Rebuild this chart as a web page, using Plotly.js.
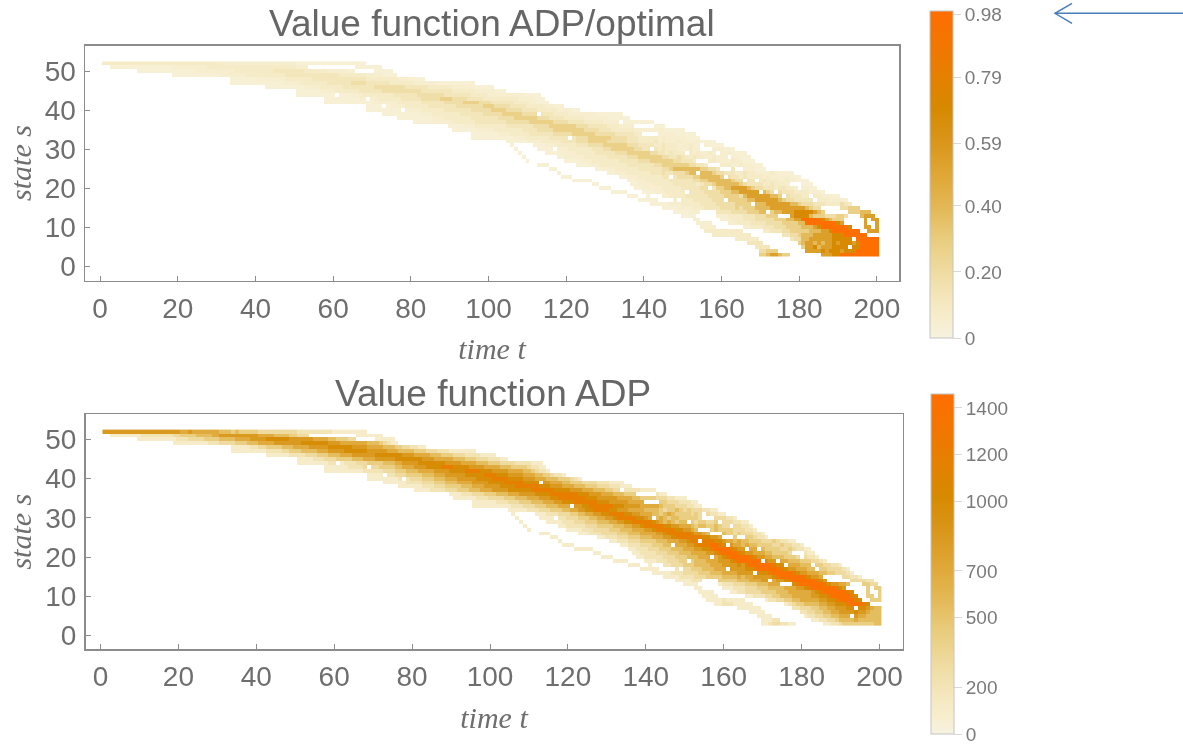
<!DOCTYPE html>
<html><head><meta charset="utf-8">
<script src="https://cdn.plot.ly/plotly-3.0.1.min.js"></script>
<style>html,body{margin:0;padding:0;background:#fff;overflow:hidden}#chart{width:1183px;height:744px;filter:blur(.45px)}</style>
</head><body><div id="chart"></div>
<script>
const states = [52,51,50,49,48,47,46,45,44,43,42,41,40,39,38,37,36,35,34,33,32,31,30,29,28,27,26,25,24,23,22,21,20,19,18,17,16,15,14,13,12,11,10,9,8,7,6,5,4,3];
const firstTime = [1,1,1,11,31,31,41,51,51,51,51,61,61,71,71,81,81,91,91,91,101,101,101,101,101,101,111,111,111,111,121,121,121,131,131,131,141,141,141,141,151,151,151,151,151,161,161,161,161,161];
// Cell readings by state row, one character per time step; '.' means no value. Digits index the level lists.
const ratioLevelValues = [0.03,0.05,0.08,0.12,0.18,0.27,0.38,0.54,0.70,0.98];
const adpLevelValues = [100,200,300,420,550,700,850,1000,1200,1420];
// Individual empty cells seen inside the band, as [time, state].
const emptyCells = [[61,44],[69,43],[73,41],[78,40],[113,39],[117,30],[121,33],[130,24],[134,37],[138,36],[139,36],[140,36],[141,36],[142,36],[140,34],[141,34],[142,34],[143,34],[142,30],[151,29],[155,31],[155,30],[156,30],[157,30],[159,29],[162,28],[154,27],[155,27],[156,27],[157,26],[158,26],[159,26],[160,25],[161,25],[162,25],[164,25],[165,25],[147,23],[154,24],[161,23],[157,20],[144,17],[145,17],[146,17],[147,17],[149,17],[142,18],[143,18],[144,18],[151,19],[161,17],[155,14],[156,14],[157,14],[158,14],[166,22],[169,22],[170,19],[168,16],[172,14],[175,13],[176,13],[177,13],[174,19],[176,18],[178,21],[179,21],[180,21],[180,20],[183,18],[184,17],[186,15],[194,7],[193,5]];
const ratioRows = [
"2222222222 2222222222 2222222222 2111111111 1111111111 0000000000 00000000",
"..00000000 0000000011 1111111222 2222222222 2222222222 111....... .....00000 00",
".........0 0000000000 0000111111 1111222222 2222333333 3322222211 11100..... 00000",
"........00 0000000000 1111111222 2222222333 3333333333 3222222211 110000",
"...0000000 1111111222 2222333333 3333333322 2222221110 000",
"...0000000 0000001111 1222222233 3333444433 3333222222 1111110000 000000",
"..00000000 0011112222 2233333333 4444444433 3333222222 1111100000 0",
"0000001111 2222223333 3344444444 4433333333 2222221111 1000",
"0000000000 0000111222 2222233333 3444444433 3333322221 1111111100 000",
".......000 0000001111 1222222333 3344444555 4444333322 2222222111 1000",
".......000 0000000000 1111112222 2233333344 4445555444 3333332222 11000",
"........00 0000111122 2222333333 3444444455 5444433332 222211000",
"........00 0000000011 1122222233 3333344444 5555444433 3322222111 100",
"..00000000 0011122222 2233333344 4445555544 4433332222 1111111000 0000",
"......0000 0000011122 2222233333 3344445555 5544433332 2222111111 000000",
"0000011111 2222223333 3333444444 5555554444 3333222221 1110000000 00",
".........0 0001112222 2222333333 3444455555 5544433333 2221111100 00000",
"0000001111 1222222233 3344445555 5555444433 3222222111 1111100000",
".....00000 0011122222 3333334444 4555555444 4433333222 2211111100 000",
".....00000 0000001112 2222233333 3344455555 5444433322 2221211111 0000",
"....000001 1112222233 3344455555 4444433322 2231211121 11110000",
".....0.... .000111222 2233344445 5555544433 3322322211 1211110000",
"......0... ..00001111 2222223334 4555555443 3332322211 1211211111 000",
".......0.. ....000011 1122222333 3344455555 5443323222 2212112111 110000",
"........0. .......001 1111222222 3333344455 5555443343 2232211211 1211000",
".........0 .........0 0001112222 2223333344 4555555443 3322322211 11211000",
"..000..... ..00011122 2222233333 3344555555 5443323232 2211211000",
".....00... .......001 1122222233 3333445666 6666554433 2232211100 0",
".......0.. .......... 0011122222 2333433444 5666666544 3332232211 11210000",
"........00 0......... ...0011122 2222333344 4455666665 4433232222 1211111000",
".00000.... .....00111 2222223333 3344556666 6654433322 322211211000",
"......00.. ......0011 1122222333 3332344566 6666543333 2232221211000",
"........00 0......001 1111222223 3333444355 6677776544 3332332211 1100",
".0000....0 0011122222 3333344445 5566777777 6544433322 221110",
".....000.. 0001112222 3333334444 5555467777 7766544333 2232211100",
"........00 0000111122 2233333444 4555556677 7777654433 3332222111 10",
".000001112 2222333344 4445555566 6777777665 4443332222 432",
"....000011 1122233334 4445455566 6677777777 76544..... 44555",
".......000 0111222233 3344445556 6656677788 888765.... ..555666..",
".........0 000.....11 1222233344 4555466788 8865554445 54...6777.",
"..11.....1 1122233344 4445556677 9999987655 5.....7.77",
"...1111... .112222333 3444455556 6999999998 7.....7..7",
"....1111.. .....11222 3334445555 6667899999 998...77.7",
".....22222 22222..... 2233344555 5566677899 99999..777",
".......222 2222222... .....33445 6667777788 8999999...",
"...222222. .......344 6677777788 8889999999",
"......3333 .........5 6776767787 8887899999",
"........33 33........ 5778677788 8888899999",
".........4 4555...... .777787888 7888999999",
".........5 5677655... .....77788 9999999999"
];
const adpRows = [
"6666666666 6666666666 5565555555 4443433333 2222222222 1111111110 00000000",
"..00000000 1111111122 3333444455 6666666666 5555444433 222....... .....00000 00",
".........0 0000000001 1122223333 4444555566 6677777766 6666555544 33322..... 00000",
"........00 0000000111 2222333444 5555666666 6777777766 6555555544 432100",
"...0000011 2233334445 5556666677 7777666655 5544433221 100",
"...0000000 0011112233 3444455566 6677777766 6665554444 3332221110 000000",
"..00000011 1122233344 4555666666 7777777666 5555444333 2221111000 0",
"0000111222 3333444555 6666677777 7766655555 4443332221 1100",
"0000000011 0011122233 3344455666 6777777766 6655554443 3322221111 000",
".......000 0001111222 2333344555 6667777888 7777666655 5544433332 1100",
".......000 0000000111 1122233344 4555566667 7778888777 6666555544 32110",
"........00 0011122233 3344455566 6667777788 8777666655 544332110",
"........00 0000001112 2233344455 5666667777 8888777766 6555444333 210",
"..00000011 1122233344 4555566667 7778888877 7766655544 3332222111 0000",
"......0000 0011122233 3344455566 6677778888 8877766655 5444333222 111000",
"0000111122 2333444555 6666777777 8888887777 6665554443 3222111100 00",
".........0 0011122233 3444555666 6777788888 8877766655 5444333322 21100",
"0000001112 2223334445 5566677888 8888777666 6655554433 3322211000",
".....00000 0111222333 4445556677 7888888777 6666655555 4433322211 100",
".....00000 0000011122 2333444555 5667788888 8777666655 5554333222 1100",
"....000001 1122233344 5566778888 7766655554 4443233432 32221100",
".....0.... .000111222 3344556677 8888776655 5443454333 3232221100",
"......0... ..00001112 2233344556 6788888776 5545434433 3332322222 110",
".......0.. ....000011 1222333444 5566778888 8765454344 3323322322 221100",
"........0. .......001 1111222333 3444556678 8888776655 5434433432 2322110",
".........0 .........0 0001112222 3334445556 6788888776 6545443433 33222110",
"..000..... ..00011122 2233344455 5566788888 8766545434 3323222110",
".....00... .......001 1122233344 4555667888 8888776655 5434333211 0",
".......0.. .......... 0011122233 3344455566 7888888776 5545443332 22321100",
"........00 0......... ...0011122 2333444555 6678889987 7655454433 3322322110",
".00000.... .....00111 2223334445 5566778999 9876655544 333322321100",
"......00.. ......0011 1122233344 4555566789 9998766555 4433332322100",
"........00 0......001 1111222333 4445556567 8999998766 5544433322 2110",
".0000....0 0011122233 3344455566 6789999998 7665554443 332210",
".....000.. 0001112223 3344445556 6667689999 9987765554 4433322110",
"........00 0000111122 2333444555 5666677899 9999876655 5444332222 10",
".000001112 2223334445 5556666677 7899999876 6555443322 210",
"....000011 1122233334 4445455666 6678999999 87665..... 22110",
".......000 0111222233 3334445556 6656678999 999876.... ..222211..",
".........0 000.....01 1122233344 4555466789 9999987665 54...3322.",
"..00.....0 0011122233 3444455566 7899999987 6.....3.33",
"...0000... .001122223 3334445555 5567899999 987...3..3",
"....0000.. .....00111 2233444555 5566778999 9987..33.3",
".....00001 00000..... 0112233445 5555667789 99987..333",
".......001 1100000... .....01233 4444556677 7899987...",
"...000000. .......112 2233445566 6777776544",
"......0000 .........1 1223344556 6667665444",
"........00 00........ 0112233445 5556554444",
".........0 0011...... ..00112234 4445444444",
".........0 01221100.. .....00112 3333333344"
];
const timeSteps = [];
for (let t = 1; t <= 200; t++) timeSteps.push(t);
const ratioTicks = [0,0.20,0.40,0.59,0.79,0.98];
const ratioTickText = ["0","0.20","0.40","0.59","0.79","0.98"];
const adpTicks = [0,200,500,700,1000,1200,1400];
const adpTickText = ["0","200","500","700","1000","1200","1400"];
const timeTicks = [0,20,40,60,80,100,120,140,160,180,200];
const stateTicks = [0,10,20,30,40,50];

function matrix(rows, levels){
  const z = [];
  const ys = [];
  for (let i = states.length-1; i >= 0; i--){
    const line = new Array(200).fill(null);
    const cells = rows[i].replace(/ /g,'');
    for (let k = 0; k < cells.length; k++){
      const c = cells[k];
      const t = firstTime[i] + k;
      if (c !== '.' && t <= 200) line[t-1] = levels[+c];
    }
    emptyCells.forEach(e => { if (e[1] === states[i]) line[e[0]-1] = null; });
    z.push(line); ys.push(states[i]);
  }
  return {z, ys};
}
const W = 1183, H = 744;
const px = x => x/W, py = y => 1-y/H;
const scale = [[0,'#f6f2df'],[0.05,'#f7eecf'],[0.1,'#f5e9c2'],[0.2,'#efdca2'],[0.3,'#e9cd7e'],[0.4,'#e3b855'],[0.5,'#dfa735'],[0.6,'#d9961a'],[0.7,'#d68a00'],[0.8,'#e58000'],[0.9,'#f27600'],[1,'#ff6e00']];
const grey = '#6e6e6e';
function bar(y0,y1,vals,text){
  return {x:px(930),xanchor:'left',xpad:0,ypad:0,y:py(y1),yanchor:'bottom',len:(y1-y0)/H,lenmode:'fraction',thickness:23,thicknessmode:'pixels',
    outlinewidth:1,outlinecolor:'#c4c4c4',ticks:'outside',ticklen:8,tickwidth:1,tickcolor:'#d8d8d8',tickmode:'array',tickvals:vals,ticktext:text,ticklabeloverflow:'allow',
    tickfont:{family:'Liberation Sans',size:19,color:'#7a7a7a'}};
}
const a = matrix(ratioRows, ratioLevelValues), b = matrix(adpRows, adpLevelValues);
const traces = [
 {type:'heatmap',x:timeSteps,y:a.ys,z:a.z,zmin:0,zmax:0.99,colorscale:scale,hoverongaps:false,xaxis:'x',yaxis:'y',colorbar:bar(11,338,ratioTicks,ratioTickText)},
 {type:'heatmap',x:timeSteps,y:b.ys,z:b.z,zmin:0,zmax:1460,colorscale:scale,hoverongaps:false,xaxis:'x2',yaxis:'y2',colorbar:Object.assign(bar(394,734,adpTicks,adpTickText),{x:px(931)})}
];
function axis(extra){
  return Object.assign({showgrid:false,zeroline:false,showline:true,mirror:true,linecolor:'#8c8c8c',linewidth:1.5,ticks:'inside',ticklen:5,tickwidth:1,tickcolor:'#8c8c8c',
    tickmode:'array',tickfont:{family:'Liberation Sans',size:28,color:grey}},extra);
}
function axisTitle(text,standoff){
  return {text:text,standoff:standoff,font:{family:'Liberation Serif',size:30,color:grey}};
}
const layout = {
  width:W,height:H,margin:{l:0,r:0,t:0,b:0},paper_bgcolor:'#fff',plot_bgcolor:'#fff',showlegend:false,
  xaxis:axis({domain:[px(85),px(899)],range:[-3.9,205.7],tickvals:timeTicks,anchor:'y',ticklabelstandoff:2,title:axisTitle('<i>time t</i>',15)}),
  yaxis:axis({domain:[py(280.5),py(45.5)],range:[-3.6,56.6],tickvals:stateTicks,anchor:'x',ticklabelstandoff:2,title:axisTitle('<i>state s</i>',4)}),
  xaxis2:axis({domain:[px(85.5),px(902.5)],range:[-3.85,205.9],tickvals:timeTicks,anchor:'y2',ticklabelstandoff:2,title:axisTitle('<i>time t</i>',16)}),
  yaxis2:axis({domain:[py(649),py(414.3)],range:[-3.4,56.4],tickvals:stateTicks,anchor:'x2',ticklabelstandoff:2,title:axisTitle('<i>state s</i>',4)}),
  annotations:[
    {xref:'paper',yref:'paper',x:px(492),y:py(24),xanchor:'center',yanchor:'middle',showarrow:false,text:'Value function ADP/optimal',font:{family:'Liberation Sans',size:37,color:'#666'}},
    {xref:'paper',yref:'paper',x:px(493),y:py(393),xanchor:'center',yanchor:'middle',showarrow:false,text:'Value function ADP',font:{family:'Liberation Sans',size:37,color:'#666'}}
  ],
  shapes:[
    {type:'line',xref:'paper',yref:'paper',x0:px(1055),x1:px(1183),y0:py(13.3),y1:py(13.3),line:{color:'#4a7dbb',width:1.5}},
    {type:'path',xref:'paper',yref:'paper',path:`M ${px(1072)} ${py(3.3)} L ${px(1055)} ${py(13.3)} L ${px(1072)} ${py(23.3)}`,line:{color:'#4a7dbb',width:1.5}}
  ]
};
Plotly.newPlot('chart',traces,layout,{displayModeBar:false,staticPlot:true});
</script></body></html>
